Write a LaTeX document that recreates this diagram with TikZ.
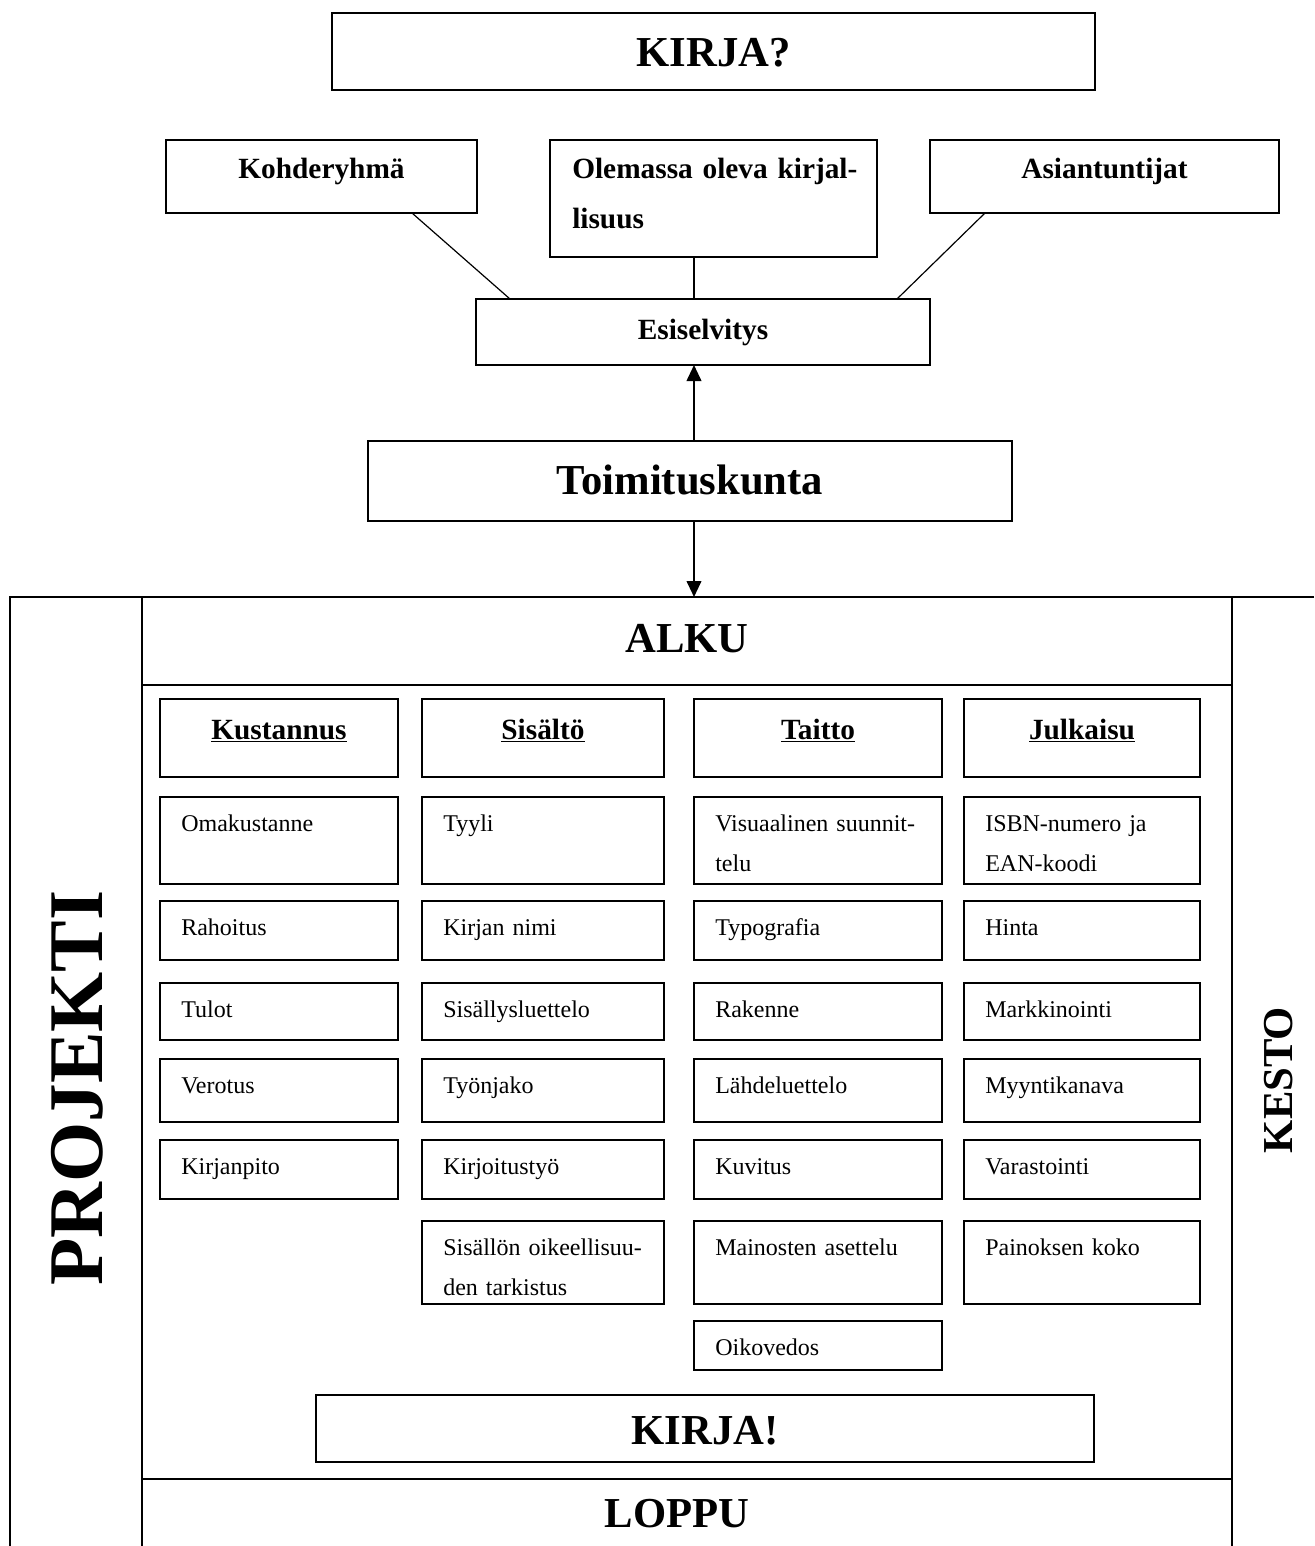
\documentclass[tikz,border=0pt]{standalone}
\usepackage{fontspec}
\setmainfont{Liberation Serif}
\usetikzlibrary{arrows.meta}
\newcommand\mybox[5]{\node[box, anchor=north west, minimum width={(#4-#2)*0.75pt}, minimum height={(#5-#3)*0.75pt}] (#1) at (#2,#3) {};}
\newcommand\itemtext[2]{\node[itemtxt] (#1t) at ([shift={(21,34)}]#1.north west) {#2};}
\newcommand\headtext[2]{\node[headtxt] (#1t) at ([shift={(0,40)}]#1.north) {\underline{#2}};}
\tikzset{
  box/.style={draw, line width=1.2pt, inner sep=0pt, outer sep=0pt},
  itemtxt/.style={anchor=base west, inner sep=0pt, text width=320pt, align=left, font=\fontsize{18}{30}\selectfont},
  headtxt/.style={anchor=base, inner sep=0pt, font=\fontsize{22}{26}\bfseries},
  midtxt/.style={anchor=base, inner sep=0pt, font=\fontsize{22}{26}\bfseries},
  bigtxt/.style={anchor=base, inner sep=0pt, font=\fontsize{32}{38}\bfseries},
  frame/.style={line width=1.6pt},
  conn/.style={line width=0.9pt},
  arr/.style={line width=1.4pt, -{Triangle[length=12pt,width=11pt]}}
}
\begin{document}
\begin{tikzpicture}[x=0.75pt,y=-0.75pt]
\useasboundingbox (0,0) rectangle (1314,1546);
% top part
\mybox{kirjaq}{332}{13}{1095}{90}
\node[bigtxt] (kirjaqt) at ([shift={(0,53)}]kirjaq.north) {KIRJA?};
\mybox{koh}{166}{140}{477}{213}
\node[midtxt] (koht) at ([shift={(0,38)}]koh.north) {Kohderyhmä};
\mybox{ole}{550}{140}{877}{257}
\node[anchor=base west, inner sep=0pt, text width=320pt, align=left, font=\fontsize{22}{38}\bfseries] (olet) at ([shift={(22,38)}]ole.north west) {Olemassa oleva kirjal-\\lisuus};
\mybox{asi}{930}{140}{1279}{213}
\node[midtxt] (asit) at ([shift={(0,38)}]asi.north) {Asiantuntijat};
\mybox{esi}{476}{299}{930}{365}
\node[midtxt] (esit) at ([shift={(0,40)}]esi.north) {Esiselvitys};
\mybox{toim}{368}{441}{1012}{521}
\node[bigtxt] (toimt) at ([shift={(0,53)}]toim.north) {Toimituskunta};
\draw[conn] ([shift={(90.5,0)}]koh.south) -- ([shift={(-193,0)}]esi.north);
\draw[conn] ([shift={(-19.5,0)}]ole.south) -- ([shift={(-9,0)}]esi.north);
\draw[conn] ([shift={(-119.5,0)}]asi.south) -- ([shift={(194,0)}]esi.north);
\draw[arr] ([shift={(4,0)}]toim.north) -- ([shift={(-9,0)}]esi.south);
\coordinate (ftop) at (694,597);
\draw[arr] ([shift={(4,0)}]toim.south) -- (ftop);
% frame
\draw[frame] (1314,597) -- (10,597) -- (10,1546);
\draw[frame] (142,597) -- (142,1546);
\draw[frame] (1232,597) -- (1232,1546);
\draw[frame] (142,685) -- (1232,685);
\draw[frame] (142,1479) -- (1232,1479);
\node[bigtxt] (alku) at (687,652) {ALKU};
\node[bigtxt] (loppu) at (677,1527) {LOPPU};
\node[inner sep=0pt, rotate=90, font=\fontsize{58}{62}\bfseries] (projekti) at (77,1088) {PROJEKTI};
\node[inner sep=0pt, rotate=90, font=\fontsize{32}{38}\bfseries] (kesto) at (1279,1080) {KESTO};
% headers
\mybox{h1}{160}{699}{398}{777}\headtext{h1}{Kustannus}
\mybox{h2}{422}{699}{664}{777}\headtext{h2}{Sisältö}
\mybox{h3}{694}{699}{942}{777}\headtext{h3}{Taitto}
\mybox{h4}{964}{699}{1200}{777}\headtext{h4}{Julkaisu}
% column 1
\mybox{a1}{160}{797}{398}{884}\itemtext{a1}{Omakustanne}
\mybox{a2}{160}{901}{398}{960}\itemtext{a2}{Rahoitus}
\mybox{a3}{160}{983}{398}{1040}\itemtext{a3}{Tulot}
\mybox{a4}{160}{1059}{398}{1122}\itemtext{a4}{Verotus}
\mybox{a5}{160}{1140}{398}{1199}\itemtext{a5}{Kirjanpito}
% column 2
\mybox{b1}{422}{797}{664}{884}\itemtext{b1}{Tyyli}
\mybox{b2}{422}{901}{664}{960}\itemtext{b2}{Kirjan nimi}
\mybox{b3}{422}{983}{664}{1040}\itemtext{b3}{Sisällysluettelo}
\mybox{b4}{422}{1059}{664}{1122}\itemtext{b4}{Työnjako}
\mybox{b5}{422}{1140}{664}{1199}\itemtext{b5}{Kirjoitustyö}
\mybox{b6}{422}{1221}{664}{1304}\itemtext{b6}{Sisällön oikeellisuu-\\den tarkistus}
% column 3
\mybox{c1}{694}{797}{942}{884}\itemtext{c1}{Visuaalinen suunnit-\\telu}
\mybox{c2}{694}{901}{942}{960}\itemtext{c2}{Typografia}
\mybox{c3}{694}{983}{942}{1040}\itemtext{c3}{Rakenne}
\mybox{c4}{694}{1059}{942}{1122}\itemtext{c4}{Lähdeluettelo}
\mybox{c5}{694}{1140}{942}{1199}\itemtext{c5}{Kuvitus}
\mybox{c6}{694}{1221}{942}{1304}\itemtext{c6}{Mainosten asettelu}
\mybox{c7}{694}{1321}{942}{1370}\itemtext{c7}{Oikovedos}
% column 4
\mybox{d1}{964}{797}{1200}{884}\itemtext{d1}{ISBN-numero ja\\EAN-koodi}
\mybox{d2}{964}{901}{1200}{960}\itemtext{d2}{Hinta}
\mybox{d3}{964}{983}{1200}{1040}\itemtext{d3}{Markkinointi}
\mybox{d4}{964}{1059}{1200}{1122}\itemtext{d4}{Myyntikanava}
\mybox{d5}{964}{1140}{1200}{1199}\itemtext{d5}{Varastointi}
\mybox{d6}{964}{1221}{1200}{1304}\itemtext{d6}{Painoksen koko}
% bottom
\mybox{kirjaex}{316}{1395}{1094}{1462}
\node[bigtxt] (kirjaext) at ([shift={(0,49)}]kirjaex.north) {KIRJA!};
\end{tikzpicture}
\end{document}
